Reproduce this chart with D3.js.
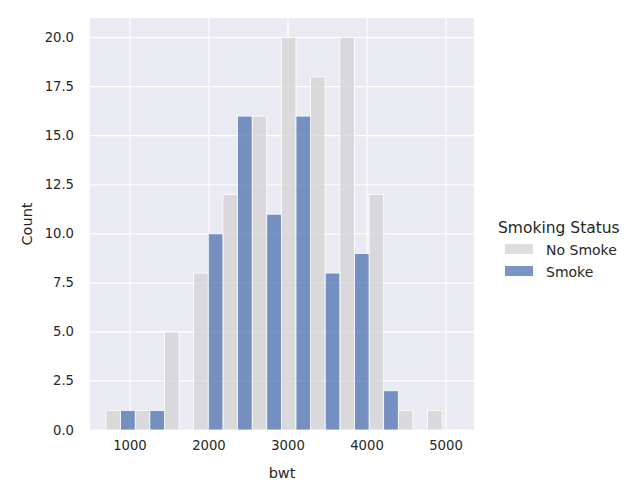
<!DOCTYPE html>
<html><head><meta charset="utf-8">
<script src="https://cdn.jsdelivr.net/npm/d3@7"></script>
<style>body{margin:0;background:#fff}text{font-family:"DejaVu Sans",sans-serif}</style>
</head><body>
<div id="chart"></div>
<script>
// bins (bwt), counts per group
const binStart = 696;
const binWidth = 370;
const noSmoke = [1, 1, 5, 8, 12, 16, 20, 18, 20, 12, 1, 1];
const smoke = [1, 1, 0, 10, 16, 11, 16, 8, 9, 2, 0, 0];
const xTicks = [1000, 2000, 3000, 4000, 5000];
const yTicks = [0, 2.5, 5, 7.5, 10, 12.5, 15, 17.5, 20];

const width = 642, height = 500;
const m = {left: 90, top: 18, right: 474, bottom: 430};

const svg = d3.select('#chart').append('svg').attr('width', width).attr('height', height);

const x = d3.scaleLinear().domain([494, 5354]).range([m.left, m.right]);
const y = d3.scaleLinear().domain([0, 21]).range([m.bottom, m.top]);

svg.append('rect').attr('x', m.left).attr('y', m.top)
  .attr('width', m.right - m.left).attr('height', m.bottom - m.top).attr('fill', '#eaeaf2');

// grid
svg.selectAll('line.gx').data(xTicks).enter().append('line')
  .attr('x1', d => x(d)).attr('x2', d => x(d)).attr('y1', m.top).attr('y2', m.bottom)
  .attr('stroke', '#fff').attr('stroke-width', 1.2);
svg.selectAll('line.gy').data(yTicks).enter().append('line')
  .attr('y1', d => y(d)).attr('y2', d => y(d)).attr('x1', m.left).attr('x2', m.right)
  .attr('stroke', '#fff').attr('stroke-width', 1.2);

function drawBars(data, offset, color) {
  svg.selectAll(null).data(data).enter().append('rect')
    .attr('x', (d, i) => x(binStart + i * binWidth + offset * binWidth / 2))
    .attr('width', x(binWidth / 2) - x(0))
    .attr('y', d => y(d))
    .attr('height', d => y(0) - y(d))
    .attr('fill', color).attr('fill-opacity', 0.75)
    .attr('stroke', '#fff').attr('stroke-width', 0.8);
}
drawBars(noSmoke, 0, '#d3d3d3');
drawBars(smoke, 1, '#4c72b0');

// tick labels
svg.selectAll('text.xt').data(xTicks).enter().append('text')
  .attr('x', d => x(d)).attr('y', m.bottom + 20).attr('text-anchor', 'middle')
  .attr('font-size', 13.2).attr('fill', '#262626').text(d => d);
svg.selectAll('text.yt').data(yTicks).enter().append('text')
  .attr('x', m.left - 16).attr('y', d => y(d) + 4.5).attr('text-anchor', 'end')
  .attr('font-size', 13.2).attr('fill', '#262626').text(d => d.toFixed(1));

svg.append('text').attr('x', (m.left + m.right) / 2).attr('y', 478).attr('text-anchor', 'middle')
  .attr('font-size', 14.5).attr('fill', '#262626').text('bwt');
svg.append('text').attr('transform', `translate(32,${(m.top + m.bottom) / 2}) rotate(-90)`)
  .attr('text-anchor', 'middle').attr('font-size', 14.5).attr('fill', '#262626').text('Count');

// legend
const lg = svg.append('g');
lg.append('text').attr('x', 498).attr('y', 233).attr('font-size', 15.5).attr('fill', '#262626').text('Smoking Status');
[['No Smoke', '#d3d3d3'], ['Smoke', '#4c72b0']].forEach((d, i) => {
  lg.append('rect').attr('x', 505).attr('y', 244 + i * 22).attr('width', 28).attr('height', 10)
    .attr('fill', d[1]).attr('fill-opacity', 0.75);
  lg.append('text').attr('x', 546).attr('y', 255 + i * 22).attr('font-size', 14).attr('fill', '#262626').text(d[0]);
});
</script>
</body></html>
